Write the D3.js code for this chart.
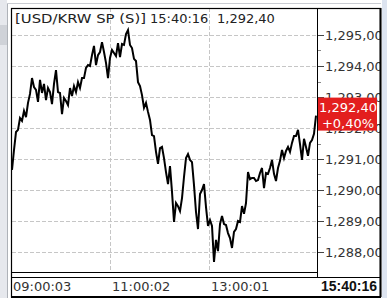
<!DOCTYPE html>
<html><head><meta charset="utf-8">
<script src="https://cdn.jsdelivr.net/npm/d3@7"></script>
<style>html,body{margin:0;padding:0;background:#fff;overflow:hidden}svg{display:block}</style>
</head><body>
<svg id="c" width="387" height="298"></svg>
<script>
// ---- data ----
const titleSymbol = "[USD/KRW SP (S)]";
const titleTime = "15:40:16";
const titleLast = "1,292,40";
const lastChange = "+0,40%";
const prices = [
1290.65,1291.29,1291.87,1291.94,1292.32,1292.23,1292.55,1292.35,1292.81,1293.10,
1293.61,1293.32,1293.23,1292.84,1293.55,1293.13,1293.42,1292.90,1293.29,1293.16,
1292.77,1293.42,1293.87,1293.16,1293.13,1292.45,1292.97,1292.87,1292.74,1293.29,
1293.03,1293.35,1293.16,1293.48,1293.29,1293.61,1293.61,1293.94,1294.03,1294.00,
1294.35,1294.65,1294.03,1294.35,1294.45,1294.77,1294.45,1294.10,1293.61,1294.26,
1294.52,1294.42,1294.32,1294.74,1294.29,1294.71,1294.68,1295.03,1295.16,1294.68,
1294.58,1294.23,1294.16,1293.48,1293.35,1293.06,1292.65,1292.81,1292.52,1292.26,
1291.77,1291.74,1291.23,1290.84,1291.35,1291.39,1291.03,1290.58,1290.19,1290.77,
1289.94,1288.97,1289.58,1289.48,1289.32,1289.74,1290.42,1291.03,1291.16,1290.97,
1290.90,1290.16,1289.29,1288.74,1289.87,1290.00,1290.19,1289.45,1288.84,1289.03,
1288.84,1287.68,1288.39,1288.03,1288.90,1289.16,1288.90,1288.87,1288.61,1288.45,
1288.13,1288.65,1288.74,1289.00,1288.97,1289.48,1289.23,1289.58,1290.58,1290.35,
1290.39,1290.39,1290.29,1290.32,1290.55,1290.71,1290.06,1290.55,1290.52,1290.71,
1290.97,1290.52,1290.29,1290.71,1290.94,1291.29,1291.03,1291.26,1291.39,1291.23,
1291.52,1291.74,1291.74,1291.94,1291.48,1290.97,1291.65,1291.39,1291.10,1291.52,
1291.61,1291.81,1292.40
];
const priceTicks = [1288,1289,1290,1291,1292,1293,1294,1295];
const priceMinorTicks = [1288.5,1289.5,1290.5,1291.5,1292.5,1293.5,1294.5];
const timeTickIndex = [0, 49.5, 99];
const timeTickLabels = ["09:00:03","11:00:02","13:00:01"];
const lastTimeLabel = "15:40:16";

// ---- layout ----
const W = 387, H = 298;
const frame = {l: 11, t: 8, r: 381, b: 297};
const plot = {l: 12, r: 317, t: 8, b: 272};
const axisBarTop = 277;

const svg = d3.select("#c");
const fmt = v => d3.format(",.2f")(v).replace(".", ",");

// background chrome
svg.append("rect").attr("x",0).attr("y",0).attr("width",W).attr("height",H).attr("fill","#ffffff");
svg.append("rect").attr("x",0).attr("y",0).attr("width",7).attr("height",H).attr("fill","#e6e8ed");
svg.append("rect").attr("x",0).attr("y",25).attr("width",7).attr("height",20).attr("fill","#cfd2d8");
svg.append("line").attr("x1",7.5).attr("x2",7.5).attr("y1",3).attr("y2",H).attr("stroke","#aeb2b8");
svg.append("line").attr("x1",7).attr("x2",W).attr("y1",3.5).attr("y2",3.5).attr("stroke","#c9ccd2");

const x = d3.scaleLinear().domain([0, prices.length - 1]).range([12, 316]);
const y = d3.scaleLinear().domain([1288, 1295]).range([252, 35]);

// grid
const g = svg.append("g");
g.selectAll("line.h").data(priceTicks).join("line")
  .attr("x1", plot.l).attr("x2", plot.r)
  .attr("y1", d => Math.round(y(d)) + 0.5).attr("y2", d => Math.round(y(d)) + 0.5)
  .attr("stroke", "#c6c6c6").attr("stroke-dasharray", "4,2");
g.selectAll("line.v").data(timeTickIndex.slice(1)).join("line")
  .attr("x1", d => Math.round(x(d)) - 0.5).attr("x2", d => Math.round(x(d)) - 0.5)
  .attr("y1", plot.t).attr("y2", plot.b)
  .attr("stroke", "#c6c6c6").attr("stroke-dasharray", "4,2");

// y axis ticks and labels
const ya = svg.append("g");
ya.selectAll("line.maj").data(priceTicks).join("line")
  .attr("x1", plot.r).attr("x2", plot.r + 7)
  .attr("y1", d => Math.round(y(d)) + 0.5).attr("y2", d => Math.round(y(d)) + 0.5)
  .attr("stroke", "#444");
ya.selectAll("line.min").data(priceMinorTicks).join("line")
  .attr("x1", plot.r).attr("x2", plot.r + 4)
  .attr("y1", d => Math.round(y(d)) + 0.5).attr("y2", d => Math.round(y(d)) + 0.5)
  .attr("stroke", "#888");
ya.selectAll("text").data(priceTicks).join("text")
  .attr("x", 325).attr("y", d => y(d) + 5)
  .attr("font-family", "DejaVu Sans").attr("font-size", 13).attr("fill", "#333")
  .text(fmt);

// price line
svg.append("path").datum(prices)
  .attr("d", d3.line().x((d, i) => x(i)).y(d => y(d)))
  .attr("fill", "none").attr("stroke", "#000").attr("stroke-width", 2)
  .attr("stroke-linejoin", "miter");

// right strip (clips labels at the frame)
svg.append("rect").attr("x",381).attr("y",0).attr("width",1).attr("height",H).attr("fill","#ffffff");
svg.append("rect").attr("x",382).attr("y",0).attr("width",5).attr("height",H).attr("fill","#dde4f0");

// last price box
const last = prices[prices.length - 1];
const boxG = svg.append("g");
boxG.append("rect").attr("x", plot.r).attr("y", y(last) - 18).attr("width", 60).attr("height", 33)
  .attr("fill", "#e31e1e");
boxG.append("text").attr("x", 348).attr("y", y(last) - 4).attr("text-anchor","middle")
  .attr("font-family","DejaVu Sans").attr("font-size",13).attr("fill","#fff").text(fmt(last));
boxG.append("text").attr("x", 348).attr("y", y(last) + 12).attr("text-anchor","middle")
  .attr("font-family","DejaVu Sans").attr("font-size",13).attr("fill","#fff").text(lastChange);

// frame lines
const k = "#000";
svg.append("rect").attr("x", frame.l + 0.5).attr("y", frame.t + 0.5)
  .attr("width", frame.r - frame.l - 1).attr("height", frame.b - frame.t - 0.5)
  .attr("fill", "none").attr("stroke", k).attr("stroke-width", 1.2);
svg.append("line").attr("x1", frame.r - 0.5).attr("x2", frame.r - 0.5).attr("y1", frame.t).attr("y2", frame.b)
  .attr("stroke", k).attr("stroke-width", 2);
svg.append("line").attr("x1", frame.l).attr("x2", frame.r).attr("y1", frame.b).attr("y2", frame.b)
  .attr("stroke", k).attr("stroke-width", 2);
svg.append("line").attr("x1", plot.r + 0.5).attr("x2", plot.r + 0.5).attr("y1", frame.t).attr("y2", axisBarTop)
  .attr("stroke", k);
svg.append("line").attr("x1", frame.l).attr("x2", plot.r).attr("y1", plot.b + 0.5).attr("y2", plot.b + 0.5)
  .attr("stroke", k);
svg.append("line").attr("x1", frame.l).attr("x2", frame.r).attr("y1", axisBarTop + 0.5).attr("y2", axisBarTop + 0.5)
  .attr("stroke", k);

// title
const tt = svg.append("g").attr("font-family","DejaVu Sans").attr("font-size",13).attr("fill","#222");
tt.append("text").attr("x", 15).attr("y", 23).attr("textLength", 131).attr("lengthAdjust", "spacingAndGlyphs").text(titleSymbol);
tt.append("text").attr("x", 150).attr("y", 23).text(titleTime);
tt.append("text").attr("x", 217).attr("y", 23).text(titleLast);

// time axis labels
svg.append("g").selectAll("text").data(timeTickIndex).join("text")
  .attr("x", d => Math.round(x(d)) + 1).attr("y", 291)
  .attr("font-family","DejaVu Sans").attr("font-size",13).attr("fill","#333")
  .text((d, i) => timeTickLabels[i]);
svg.append("text").attr("x", 377).attr("y", 291).attr("text-anchor","end")
  .attr("font-family","Liberation Sans").attr("font-weight","bold").attr("font-size",14).attr("fill","#111")
  .text(lastTimeLabel);
</script>
</body></html>
